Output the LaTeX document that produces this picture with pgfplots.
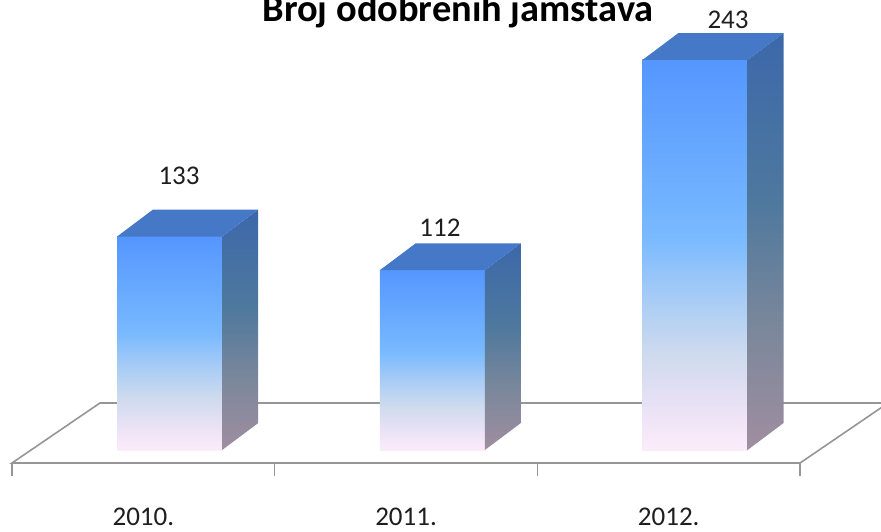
\documentclass[border=0pt]{standalone}
\usepackage{pgfplots}
\pgfplotsset{compat=1.18}
\usepackage{fontspec}
\setmainfont{Carlito}
\definecolor{fa}{RGB}{85,150,255}
\definecolor{fb}{RGB}{120,185,255}
\definecolor{fc}{RGB}{170,205,245}
\definecolor{fd}{RGB}{205,218,238}
\definecolor{fe}{RGB}{232,225,245}
\definecolor{ff}{RGB}{252,236,250}
\definecolor{sa}{RGB}{60,104,170}
\definecolor{sb}{RGB}{78,120,158}
\definecolor{sc}{RGB}{122,135,155}
\definecolor{sd}{RGB}{160,142,160}
\definecolor{ttop}{RGB}{70,120,200}
\definecolor{floorgray}{RGB}{150,150,150}
\definecolor{labelcol}{RGB}{30,30,30}
\pgfdeclareverticalshading{frontshade}{100bp}{color(0bp)=(ff); color(25bp)=(ff); color(31bp)=(fe); color(37.5bp)=(fd); color(44bp)=(fc); color(52.5bp)=(fb); color(75bp)=(fa); color(100bp)=(fa)}
\pgfdeclareverticalshading{sideshade}{100bp}{color(0bp)=(sd); color(25bp)=(sd); color(40bp)=(sc); color(55bp)=(sb); color(75bp)=(sa); color(100bp)=(sa)}
\begin{document}
\begin{tikzpicture}
\begin{axis}[
  scale only axis, width=440.5pt, height=265.5pt,
  at={(0,0)}, anchor=south west,
  xmin=-0.0457, xmax=3.3082, ymin=-50.47, ymax=280.37,
  hide axis, clip=true,
]
% floor
\addplot[draw=floorgray, line width=0.8pt, fill=white] coordinates {(0,-8.1) (3,-8.1) (3.335,29.3) (0.335,29.3)} -- cycle;
% ticks
\addplot[floorgray, line width=0.8pt] coordinates {(0,-8.1) (0,-16.2)};
\addplot[floorgray, line width=0.8pt] coordinates {(1,-8.1) (1,-16.2)};
\addplot[floorgray, line width=0.8pt] coordinates {(2,-8.1) (2,-16.2)};
\addplot[floorgray, line width=0.8pt] coordinates {(3,-8.1) (3,-16.2)};
% front faces
\addplot[ybar, bar width=0.4, draw=none, shading=frontshade] coordinates {(0.6,133)};
\addplot[ybar, bar width=0.4, draw=none, shading=frontshade] coordinates {(1.6,112)};
\addplot[ybar, bar width=0.4, draw=none, shading=frontshade] coordinates {(2.6,243)};
% side faces
\addplot[draw=none, shading=sideshade]
  coordinates {(0.8,0) (0.937,16.8) (0.937,149.8) (0.8,133)} -- cycle;
\addplot[draw=none, shading=sideshade]
  coordinates {(1.8,0) (1.937,16.8) (1.937,128.8) (1.8,112)} -- cycle;
\addplot[draw=none, shading=sideshade]
  coordinates {(2.8,0) (2.937,16.8) (2.937,259.8) (2.8,243)} -- cycle;
% top faces
\addplot[draw=none, fill=ttop]
  coordinates {(0.4,133) (0.8,133) (0.937,149.8) (0.537,149.8)} -- cycle;
\addplot[draw=none, fill=ttop]
  coordinates {(1.4,112) (1.8,112) (1.937,128.8) (1.537,128.8)} -- cycle;
\addplot[draw=none, fill=ttop]
  coordinates {(2.4,243) (2.8,243) (2.937,259.8) (2.537,259.8)} -- cycle;
% value labels
\node[font=\fontsize{13.5}{15}\selectfont, text=labelcol] at (axis cs:0.636,170.7) {133};
\node[font=\fontsize{13.5}{15}\selectfont, text=labelcol] at (axis cs:1.629,138.3) {112};
\node[font=\fontsize{13.5}{15}\selectfont, text=labelcol] at (axis cs:2.726,267.9) {243};
% category labels
\node[font=\fontsize{13.5}{15}\selectfont, text=labelcol] at (axis cs:0.5,-41.7) {2010.};
\node[font=\fontsize{13.5}{15}\selectfont, text=labelcol] at (axis cs:1.5,-41.7) {2011.};
\node[font=\fontsize{13.5}{15}\selectfont, text=labelcol] at (axis cs:2.5,-41.7) {2012.};
% title
\node[anchor=base, font=\fontsize{19.2}{22}\selectfont\bfseries] at (axis cs:1.698,266.7) {Broj odobrenih jamstava};
\end{axis}
\pgfresetboundingbox
\path[use as bounding box] (0,0) rectangle (440.5pt,265.5pt);
\end{tikzpicture}
\end{document}
